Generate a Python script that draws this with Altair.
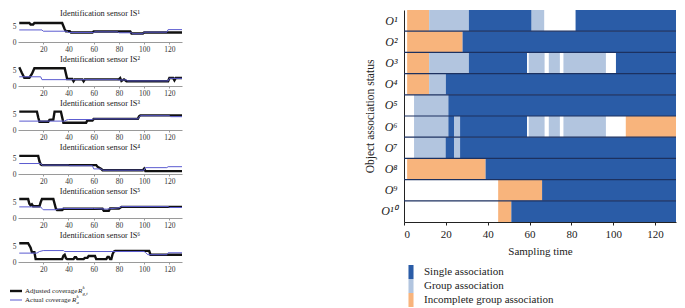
import altair as alt
import pandas as pd

FONT = "Liberation Serif"
BLACK = "#111111"
PURPLE = "#5b5bd0"
DARK = "#2a5ca7"
LIGHT = "#b2c5df"
ORANGE = "#f8b47c"
SEP = "#1c3160"

# ---------------- Left: sensor coverage panels ----------------
sensor_titles = [
    "Identification sensor IS¹", "Identification sensor IS²", "Identification sensor IS³",
    "Identification sensor IS⁴", "Identification sensor IS⁵", "Identification sensor IS⁶",
]
left_xticks = [20, 40, 60, 80, 100, 120]
left_yticks = [0, 5]

adj1_t = [1, 9, 10, 12, 13, 35, 37, 38, 41, 42, 59, 60, 89, 90, 99, 100, 130]
adj1_v = [6, 6, 5.5, 5.5, 6, 6, 4, 3.4, 3.4, 3.0, 3.0, 3.3, 3.3, 2.7, 2.7, 3.0, 3.0]
act1_t = [1, 19, 20, 39, 40, 60, 61, 79, 80, 90, 91, 99, 100, 118, 119, 130]
act1_v = [3.8, 3.8, 3.4, 3.4, 3.0, 3.0, 3.2, 3.2, 2.9, 2.9, 2.6, 2.6, 3.1, 3.1, 3.9, 3.9]

adj2_t = [1, 3, 5, 9, 11, 13, 37, 39, 43, 44, 45, 51, 52, 53, 80, 81, 82, 84, 86, 119, 120, 123, 124, 125, 130]
adj2_v = [5.9, 4.2, 2.6, 2.6, 3.8, 5.6, 5.6, 2.2, 2.2, 1.5, 2.1, 2.1, 1.5, 2.1, 2.1, 2.5, 1.6, 2.1, 1.5, 1.5, 2.5, 2.5, 1.8, 2.5, 2.5]
act2_t = [1, 18, 19, 79, 80, 86, 87, 119, 120, 130]
act2_v = [2.9, 2.9, 2.0, 2.0, 1.9, 1.9, 1.6, 1.6, 2.4, 2.4]

adj3_t = [1, 15, 16, 17, 24, 25, 28, 29, 34, 35, 36, 54, 55, 59, 60, 95, 96, 97, 130]
adj3_v = [5.8, 5.8, 4.0, 2.6, 2.6, 3.2, 3.3, 5.8, 5.8, 4.0, 2.3, 2.3, 3.0, 3.0, 3.5, 3.5, 4.3, 4.6, 4.6]
act3_t = [1, 37, 38, 40, 59, 60, 95, 97, 120, 121, 130]
act3_v = [2.8, 2.8, 3.1, 3.3, 3.3, 3.5, 3.5, 4.5, 4.5, 4.2, 4.2]

adj4_t = [1, 16, 17, 18, 19, 62, 63, 66, 67, 99, 100, 101, 130]
adj4_v = [5.7, 5.7, 4.0, 3.0, 2.8, 2.8, 2.3, 1.6, 1.2, 1.2, 1.7, 0.9, 0.9]
act4_t = [1, 18, 19, 40, 41, 59, 60, 66, 67, 100, 101, 118, 119, 130]
act4_v = [3.3, 3.3, 2.8, 2.8, 2.6, 2.6, 1.6, 1.6, 1.2, 1.2, 2.0, 2.0, 2.3, 2.3]

adj5_t = [1, 8, 9, 10, 11, 12, 17, 18, 19, 28, 30, 31, 35, 36, 67, 68, 72, 73, 80, 81, 82, 130]
adj5_v = [6, 6, 4.5, 4.0, 4.3, 3.7, 3.7, 5.0, 6, 6, 3.0, 2.5, 2.5, 2.9, 2.9, 2.3, 2.3, 3.0, 3.0, 3.2, 3.5, 3.5]
act5_t = [1, 18, 19, 20, 30, 31, 36, 60, 70, 80, 82, 119, 120, 130]
act5_v = [3.5, 3.5, 3.0, 2.6, 2.6, 2.8, 3.0, 3.0, 2.8, 3.2, 3.6, 3.6, 3.3, 3.3]

adj6_t = [1, 8, 10, 11, 13, 14, 35, 36, 37, 38, 39, 44, 45, 46, 47, 52, 53, 55, 56, 61, 62, 70, 71, 72,
          73, 74, 75, 76, 77, 104, 105, 130]
adj6_v = [5.9, 5.9, 4.5, 3.1, 3.1, 0.9, 0.9, 2.0, 2.3, 1.2, 0.9, 0.9, 1.5, 1.5, 0.9, 0.9, 1.3, 1.3, 1.9, 1.9,
          0.9, 0.9, 1.6, 1.6, 0.9, 0.9, 2.5, 3.3, 3.5, 3.5, 2.3, 2.3]
act6_t = [1, 15, 17, 20, 36, 37, 100, 101, 103, 118, 119, 130]
act6_v = [2.8, 2.8, 3.3, 3.6, 3.6, 3.3, 3.3, 3.0, 2.3, 2.3, 2.9, 2.9]

adj_t = [adj1_t, adj2_t, adj3_t, adj4_t, adj5_t, adj6_t]
adj_v = [adj1_v, adj2_v, adj3_v, adj4_v, adj5_v, adj6_v]
act_t = [act1_t, act2_t, act3_t, act4_t, act5_t, act6_t]
act_v = [act1_v, act2_v, act3_v, act4_v, act5_v, act6_v]

legend_left_main = ["Adjusted coverage", "Actual coverage"]
legend_left_sub = ["g,t", "a"]

LW = 164
PH = 20
TITLE_SIZE = 8.3
NOBOX = alt.ViewBackground(stroke="transparent", strokeWidth=0)


def title_layer(text, yv):
    d_title = pd.DataFrame({"title": [text]})
    return alt.Chart(d_title).mark_text(font=FONT, fontSize=TITLE_SIZE, color="#222", align="center",
                                        baseline="middle").encode(
        x=alt.value(LW / 2), y=alt.value(yv), text="title:N")


panels = []
for i in range(6):
    xenc = alt.X("t:Q", scale=alt.Scale(domain=[0, 130], nice=False, zero=False),
                 axis=alt.Axis(values=left_xticks, title=None, labelFont=FONT, labelFontSize=7.5,
                               labelColor="#333", domainColor="#9a9a9a", tickColor="#9a9a9a",
                               tickSize=2, labelPadding=1, grid=False))
    yenc = alt.Y("v:Q", scale=alt.Scale(domain=[0, 6.3], nice=False),
                 axis=alt.Axis(values=left_yticks, title=None, labelFont=FONT, labelFontSize=7.5,
                               labelColor="#333", domain=False, ticks=False, labelPadding=2, grid=False))
    d_adj = pd.DataFrame({"t": adj_t[i], "v": adj_v[i]})
    d_act = pd.DataFrame({"t": act_t[i], "v": act_v[i]})
    l_adj = alt.Chart(d_adj).mark_line(color=BLACK, strokeWidth=2.4).encode(x=xenc, y=yenc)
    l_act = alt.Chart(d_act).mark_line(color=PURPLE, strokeWidth=1).encode(x=xenc, y=yenc)
    layers = [l_adj, l_act]
    if i > 0:
        layers.append(title_layer(sensor_titles[i], -6))
    panels.append(alt.layer(*layers).properties(width=LW, height=PH, view=NOBOX))

# first title as its own small chart so that the column's origin is at its top
title1 = title_layer(sensor_titles[0], 3.5).properties(width=LW, height=8, view=NOBOX)

leg_df = pd.DataFrame({"main": legend_left_main, "sub": legend_left_sub, "row": [0, 1],
                       "off": [60, 54]})
ly = alt.Y("row:O", axis=None, scale=alt.Scale(type="point", range=[16, 25], padding=0))
lx = alt.X("off:Q", scale=alt.Scale(domain=[0, LW], range=[0, LW]), axis=None)
leg_base = alt.Chart(leg_df)
leg_line_adj = leg_base.transform_filter("datum.row == 0").mark_rule(color=BLACK, strokeWidth=2.4).encode(
    x=alt.value(-8), x2=alt.value(4), y=ly)
leg_line_act = leg_base.transform_filter("datum.row == 1").mark_rule(color=PURPLE, strokeWidth=1).encode(
    x=alt.value(-8), x2=alt.value(4), y=ly)
leg_main = leg_base.mark_text(align="left", baseline="middle", font=FONT, fontSize=7, color="#222").encode(
    x=alt.value(7), y=ly, text="main:N")
r_main = leg_base.mark_text(align="left", baseline="middle", font=FONT, fontSize=7,
                            fontStyle="italic", color="#222").encode(x=lx, y=ly, text=alt.value("R"))
r_sup = leg_base.mark_text(align="left", baseline="middle", font=FONT, fontSize=4.8,
                           fontStyle="italic", color="#222", dx=4.6, dy=-2.7).encode(
    x=lx, y=ly, text=alt.value("k"))
r_sub = leg_base.mark_text(align="left", baseline="middle", font=FONT, fontSize=4.8,
                           fontStyle="italic", color="#222", dx=4.6, dy=2.5).encode(
    x=lx, y=ly, text="sub:N")
left_legend = alt.layer(leg_line_adj, leg_line_act, leg_main, r_main, r_sup, r_sub).properties(
    width=LW, height=27, view=NOBOX)

left_col = alt.vconcat(title1, alt.vconcat(*panels, left_legend, spacing=2), spacing=0)

# ---------------- Right: object association status ----------------
obj_labels = ["O¹", "O²", "O³", "O⁴", "O⁵", "O⁶", "O⁷", "O⁸", "O⁹", "O¹⁰"]
kind_labels = ["Single association", "Group association", "Incomplete group association"]
right_xticks = [0, 20, 40, 60, 80, 100, 120]

seg_obj = [0, 0, 0, 0, 0,
           1, 1,
           2, 2, 2, 2, 2, 2, 2,
           3, 3, 3,
           4, 4,
           5, 5, 5, 5, 5, 5, 5, 5,
           6, 6, 6, 6,
           7, 7,
           8, 8,
           9, 9]
seg_start = [1.5, 12, 31, 61, 82,
             1.5, 28,
             1.5, 12, 31, 59.6, 69.2, 76.2, 101.3,
             1.5, 12, 20,
             4.8, 21.2,
             4.8, 21.2, 23.9, 26.8, 59.6, 69.2, 76.2, 106,
             4.8, 19.9, 23.9, 26.8,
             1.5, 39,
             45, 66,
             45, 51.3]
seg_end = [12, 31, 61, 67, 130,
           28, 130,
           12, 31, 58.8, 67.2, 74.5, 96.5, 130,
           12, 20, 130,
           21.2, 130,
           21.2, 23.9, 26.8, 58.8, 67.2, 74.5, 96.5, 130,
           19.9, 23.9, 26.8, 130,
           39, 130,
           66, 130,
           51.3, 130]
seg_kind = [2, 1, 0, 1, 0,
            2, 0,
            2, 1, 0, 1, 1, 1, 0,
            2, 1, 0,
            1, 0,
            1, 0, 1, 0, 1, 1, 1, 2,
            1, 0, 1, 0,
            2, 0,
            2, 0,
            2, 0]

RW, RH = 272, 212
seg_df = pd.DataFrame({
    "obj": [obj_labels[k] for k in seg_obj],
    "start": seg_start, "end": seg_end,
    "kind": [kind_labels[k] for k in seg_kind],
})
sep_df = pd.DataFrame({"obj": obj_labels[1:]})

yscale = alt.Scale(domain=obj_labels, paddingInner=0, paddingOuter=0)
bars = alt.Chart(seg_df).mark_bar(cornerRadius=0).encode(
    x=alt.X("start:Q", scale=alt.Scale(domain=[0, 130], nice=False, zero=False),
            axis=alt.Axis(values=right_xticks, title="Sampling time", labelFont=FONT, labelFontSize=11,
                          titleFont=FONT, titleFontSize=11, titleFontWeight="normal", labelColor="#222",
                          titleColor="#222", domainColor="#222", tickColor="#222", tickSize=3,
                          labelPadding=3, titlePadding=6, grid=False)),
    x2="end:Q",
    y=alt.Y("obj:N", sort=obj_labels, scale=yscale,
            axis=alt.Axis(title="Object association status", labelFont=FONT, labelFontSize=12,
                          labelFontStyle="italic", labelColor="#222", titleFont=FONT, titleFontSize=11.5,
                          titleFontWeight="normal", titleColor="#222", domainColor="#222", ticks=False,
                          labelPadding=7, titlePadding=5, grid=False)),
    color=alt.Color("kind:N", scale=alt.Scale(domain=kind_labels, range=[DARK, LIGHT, ORANGE]),
                    legend=alt.Legend(orient="none", legendX=386, legendY=255, title=None,
                                      symbolType="M-0.36,-1L0.36,-1L0.36,1L-0.36,1Z",
                                      symbolSize=196, symbolStrokeWidth=0, labelFont=FONT,
                                      labelFontSize=11, labelColor="#222", rowPadding=0,
                                      labelOffset=6, padding=0)),
)
seps = alt.Chart(sep_df).mark_rule(color=SEP, strokeWidth=1.2).encode(
    y=alt.Y("obj:N", sort=obj_labels, scale=yscale, bandPosition=0),
    x=alt.value(0), x2=alt.value(RW),
)
right = alt.layer(bars, seps).properties(width=RW, height=RH, view=NOBOX)

chart = alt.hconcat(left_col, right, spacing=177).properties(padding=0).configure_view(
    stroke="transparent", strokeWidth=0).configure(font=FONT)

chart.save("out.html", embed_options={"renderer": "svg", "actions": False})
